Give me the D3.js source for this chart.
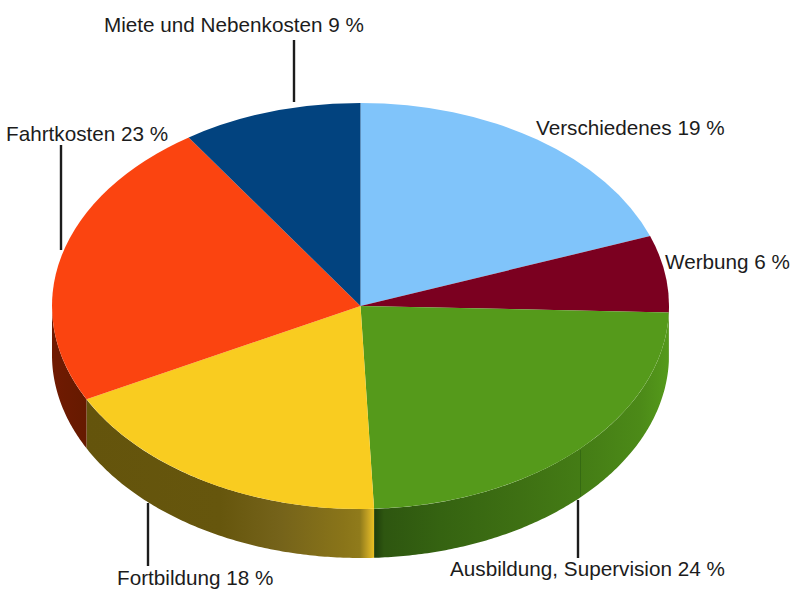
<!DOCTYPE html>
<html>
<head>
<meta charset="utf-8">
<script src="https://cdn.jsdelivr.net/npm/d3@7"></script>
<style>
body { margin: 0; background: #fff; }
text { font-family: "Liberation Sans", Arial, sans-serif; font-size: 20.7px; fill: #1c1c1c; }
</style>
</head>
<body>
<div id="chart"></div>
<script>
// chart values, clockwise from 12 o'clock
var categories = ["Verschiedenes", "Werbung", "Ausbildung, Supervision", "Fortbildung", "Fahrtkosten", "Miete und Nebenkosten"];
var shares = [19.4, 6.1, 23.8, 18.1, 23.2, 9.4];
var colors = ["#80c4fa", "#7b0020", "#559a1b", "#f9cc20", "#fb4410", "#02437f"];

var width = 791, height = 590;
var cx = 360.5, cy = 306, rx = 308.5, ry = 203, depth = 49;

// where the labels go, by category
var labelLayout = {
	"Verschiedenes": { x: 536, y: 135 },
	"Werbung": { x: 665, y: 269 },
	"Ausbildung, Supervision": { x: 450, y: 576, line: [578, 500, 558] },
	"Fortbildung": { x: 117, y: 585, line: [148, 503, 566] },
	"Fahrtkosten": { x: 6, y: 141, line: [61, 145, 250] },
	"Miete und Nebenkosten": { x: 104, y: 32, line: [294, 40, 102] }
};

var svg = d3.select("#chart").append("svg")
	.attr("width", width)
	.attr("height", height);

var defs = svg.append("defs");

// side wall shading runs left to right across the whole picture
function wall_gradient(id, stops) {
	var g = defs.append("linearGradient")
		.attr("id", id)
		.attr("gradientUnits", "userSpaceOnUse")
		.attr("x1", cx - rx).attr("x2", cx + rx)
		.attr("y1", 0).attr("y2", 0);
	stops.forEach(function(s) {
		g.append("stop")
			.attr("offset", (s[0] - (cx - rx)) / (2 * rx))
			.attr("stop-color", s[1]);
	});
}

wall_gradient("wall-red", [[52, "#701a02"], [86, "#661a00"]]);
wall_gradient("wall-yellow", [[86, "#64540c"], [220, "#66560d"], [280, "#75631a"], [345, "#8a7519"], [360, "#907b1b"], [368, "#c4a224"], [374, "#e8bf22"]]);
wall_gradient("wall-green", [[374, "#1e3d0a"], [384, "#2e5610"], [440, "#356311"], [520, "#3e7013"], [580, "#447c15"], [640, "#4c8a18"], [669, "#559a1b"]]);

var wallFills = {
	"Ausbildung, Supervision": "url(#wall-green)",
	"Fortbildung": "url(#wall-yellow)",
	"Fahrtkosten": "url(#wall-red)"
};

var pie = d3.pie().sort(null).startAngle(0).endAngle(2 * Math.PI);
var slices = pie(shares);

var front = Math.PI / 2, back = 3 * Math.PI / 2;

// point on the rim of the tilted disc
function rim(a, drop) {
	return [cx + rx * Math.sin(a), cy - ry * Math.cos(a) + drop];
}

var rimLine = d3.line();

function wall_path(d) {
	var a0 = Math.max(d.startAngle, front), a1 = Math.min(d.endAngle, back);
	if (a1 <= a0) return null;
	var angles = d3.range(a0, a1, 0.01).concat([a1]);
	var top = angles.map(function(a) { return rim(a, 0); });
	var bottom = angles.slice().reverse().map(function(a) { return rim(a, depth); });
	return rimLine(top.concat(bottom)) + "Z";
}

// walls first, the top surface sits on them
svg.append("g").selectAll("path")
	.data(slices)
	.enter().append("path")
		.attr("d", wall_path)
		.attr("fill", function(d, i) { return wallFills[categories[i]] || colors[i]; });

// seam in the green wall
svg.append("line")
	.attr("x1", 580.5).attr("x2", 580.5)
	.attr("y1", 450).attr("y2", 497)
	.attr("stroke", "#356a12")
	.attr("stroke-width", 1);

var arc = d3.arc().innerRadius(0).outerRadius(rx);

svg.append("g")
	.attr("transform", "translate(" + cx + "," + cy + ") scale(1," + (ry / rx) + ")")
	.selectAll("path")
	.data(slices)
	.enter().append("path")
		.attr("d", arc)
		.attr("fill", function(d, i) { return colors[i]; });

// labels and their leader lines
var labels = svg.append("g").selectAll("g")
	.data(categories)
	.enter().append("g");

labels.filter(function(d) { return labelLayout[d].line; })
	.append("line")
		.attr("x1", function(d) { return labelLayout[d].line[0]; })
		.attr("x2", function(d) { return labelLayout[d].line[0]; })
		.attr("y1", function(d) { return labelLayout[d].line[1]; })
		.attr("y2", function(d) { return labelLayout[d].line[2]; })
		.attr("stroke", "#1c1c1c")
		.attr("stroke-width", 2.4);

labels.append("text")
	.attr("x", function(d) { return labelLayout[d].x; })
	.attr("y", function(d) { return labelLayout[d].y; })
	.text(function(d, i) { return d + " " + Math.round(shares[i]) + " %"; });
</script>
</body>
</html>
